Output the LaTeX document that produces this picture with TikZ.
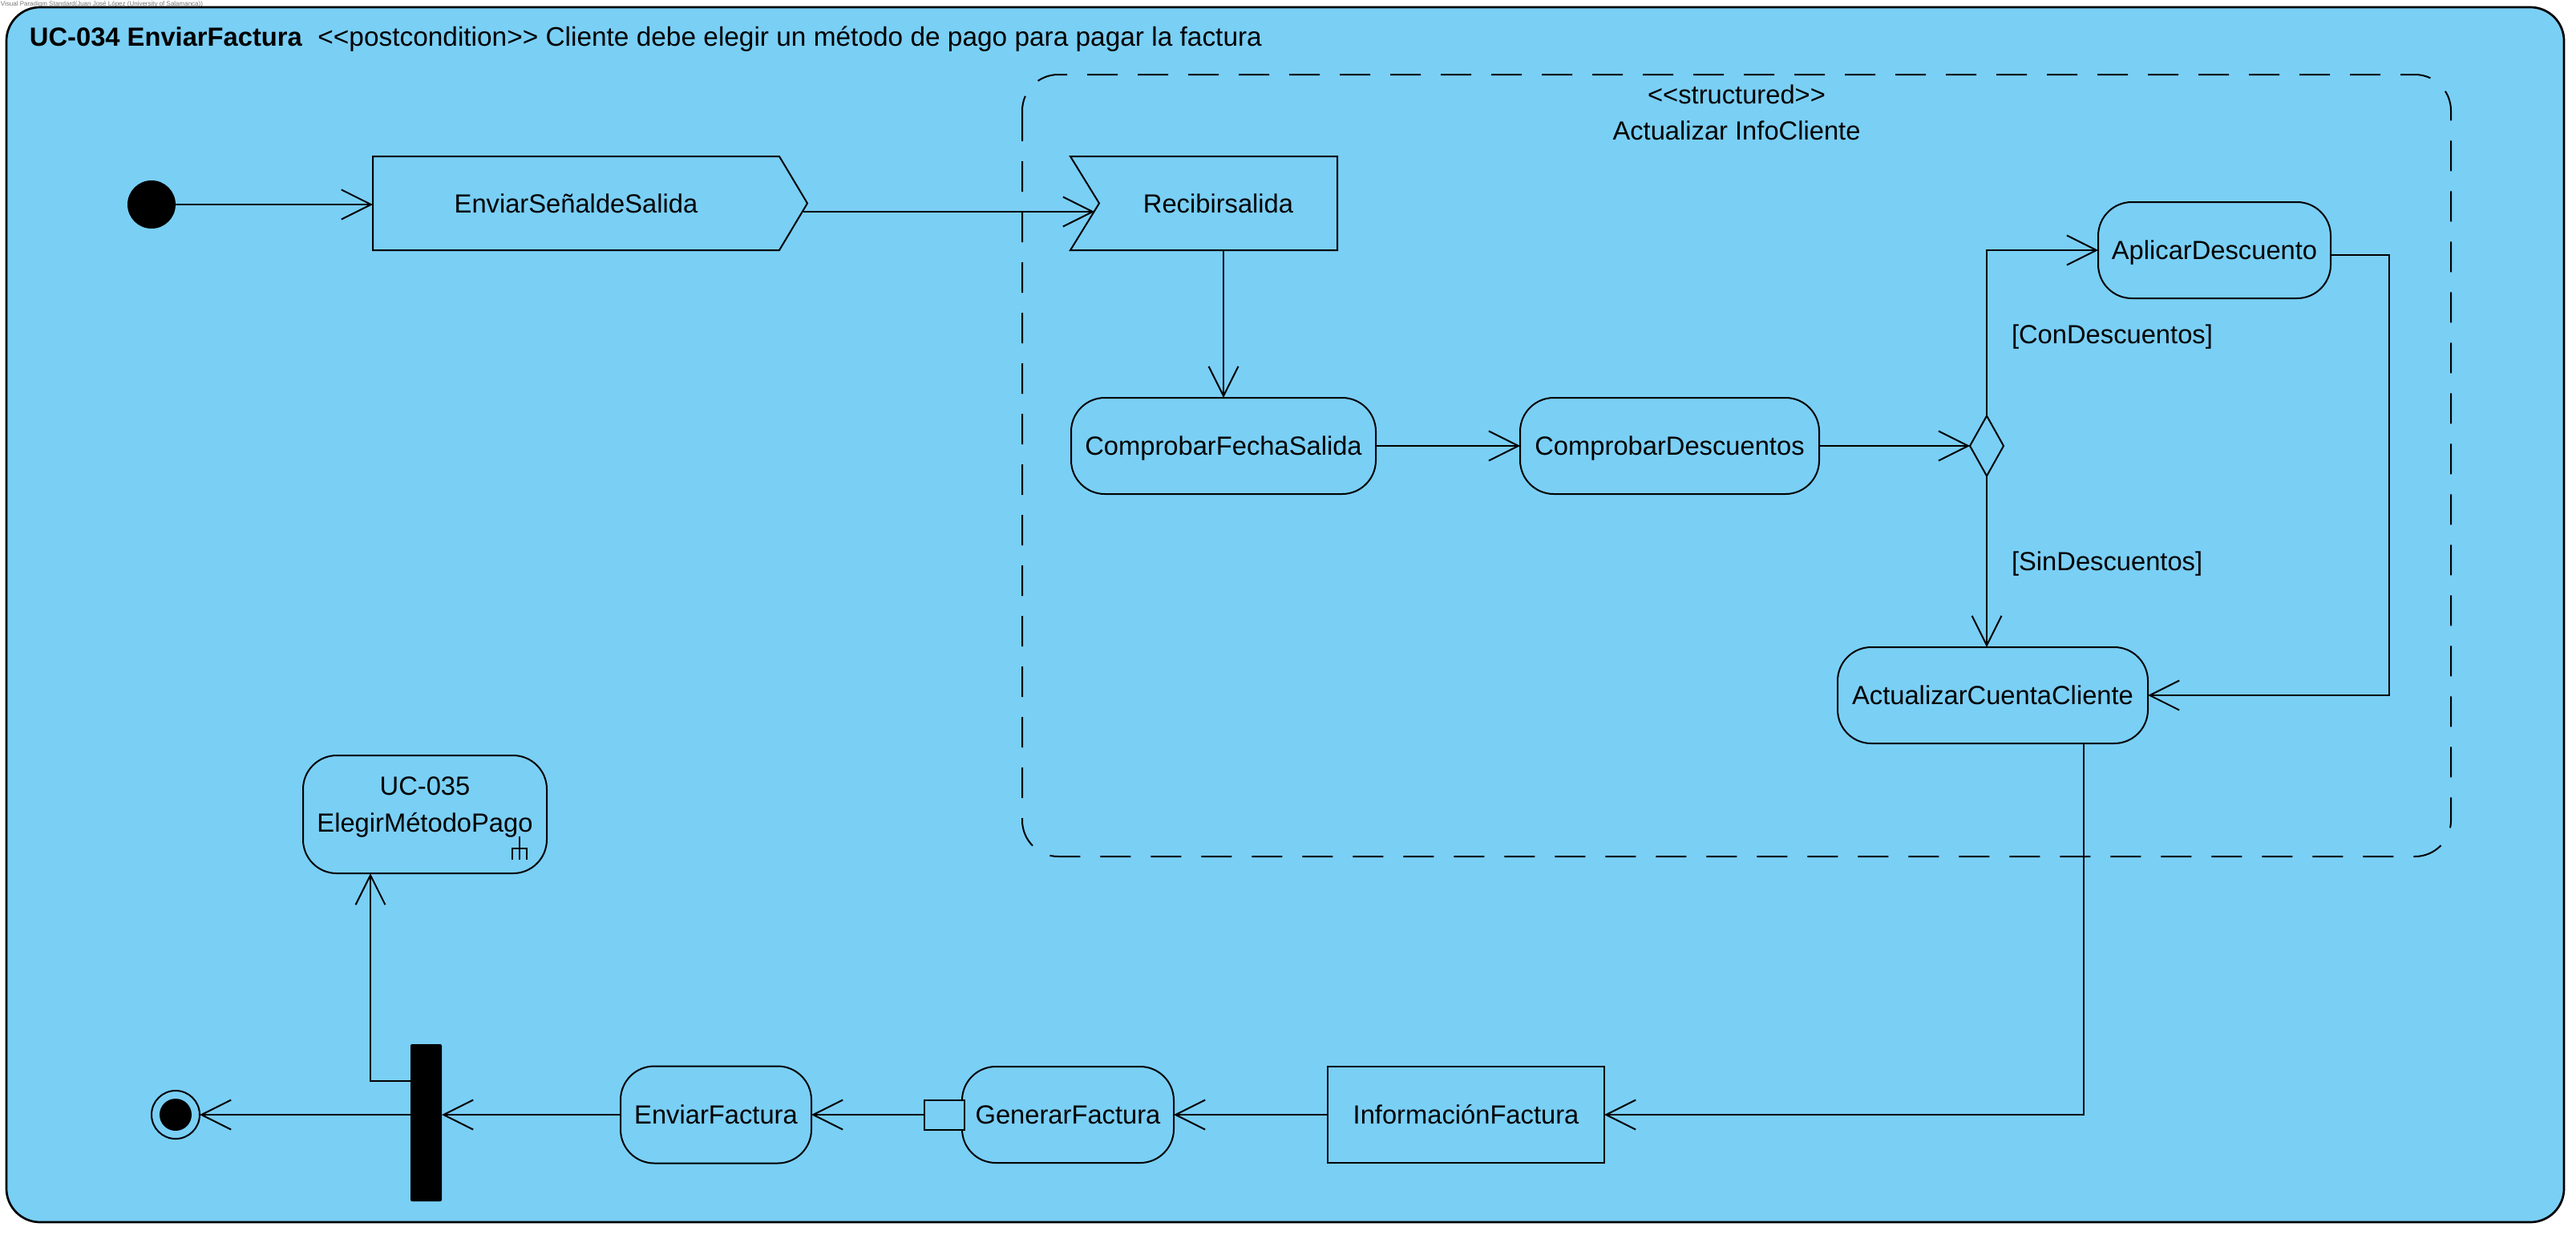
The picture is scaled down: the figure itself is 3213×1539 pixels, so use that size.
\documentclass[tikz,border=0pt]{standalone}
\usepackage{fontspec}
\usepackage{graphicx}
\setmainfont{Liberation Sans}
\usetikzlibrary{arrows.meta,calc,shapes.geometric}
\newlength\upx
\setlength\upx{0.01cm}
\definecolor{umlblue}{RGB}{122,207,245}
\definecolor{markgray}{RGB}{120,120,120}

\begin{document}
\begin{tikzpicture}[x=0.01cm, y=-0.01cm,
  every node/.style={font=\fontsize{9.3pt}{11pt}\selectfont, inner sep=0pt, outer sep=0pt},
  line/.style={line width=0.57pt},
  flow/.style={line, -{Straight Barb[length=10.5pt,width=10.5pt]}},
  plain/.style={text height=6.7pt, text depth=0pt},
  action/.style={draw, line, plain, rounded corners=42\upx, minimum height=120\upx},
  objbox/.style={draw, line, plain, minimum height=120\upx},
]
\useasboundingbox (0,0) rectangle (3213,1539);

% tool mark
\node[anchor=north west, text=markgray] (mark) at (1,2)
  {\resizebox{252\upx}{!}{Visual Paradigm Standard(Juan José López (University of Salamanca))}};

% activity frame
\draw[line width=0.77pt, fill=umlblue, rounded corners=42\upx] (8,9) rectangle (3198,1524);
\node[anchor=base west] (title) at (37,57)
  {\textbf{UC-034 EnviarFactura}\hspace{5.5pt}{\fontsize{9.5pt}{11pt}\selectfont <{}<postcondition>{}> Cliente debe elegir un método de pago para pagar la factura}};

% structured region
\draw[line, dash pattern=on 38\upx off 25\upx, rounded corners=45\upx] (1275,93) rectangle (3057,1068);
\node[anchor=base] (stereo) at (2166,129) {<{}<structured>{}>};
\node[anchor=base] (regname) at (2166,174) {Actualizar InfoCliente};

% initial node
\node[circle, fill, minimum size=60\upx] (init) at (189,255) {};

% send signal action
\node[plain, minimum width=507\upx, minimum height=117\upx] (send) at (718.5,253.5) {EnviarSeñaldeSalida};
\draw[line] (send.north west) -- (send.north east) -- ($(send.east)+(35,0)$)
  -- (send.south east) -- (send.south west) -- cycle;

% accept event action
\node[plain, minimum width=297\upx, minimum height=117\upx] (recv) at (1519.5,253.5) {Recibirsalida};
\draw[line] (recv.west) -- ($(recv.north west)+(-36,0)$) -- (recv.north east)
  -- (recv.south east) -- ($(recv.south west)+(-36,0)$) -- cycle;

% actions
\node[action, minimum width=380\upx] (cfs) at (1526,556) {ComprobarFechaSalida};
\node[action, minimum width=373\upx] (cd) at (2082.5,556) {ComprobarDescuentos};
\node[diamond, draw, line, minimum width=42\upx, minimum height=75\upx] (dec) at (2478,556) {};
\node[action, minimum width=290\upx] (ad) at (2762,312) {AplicarDescuento};
\node[action, minimum width=387\upx] (acc) at (2485.5,867) {ActualizarCuentaCliente};
\node[objbox, minimum width=345\upx] (info) at (1828.5,1390) {InformaciónFactura};
\node[action, minimum width=264\upx] (gf) at (1332,1390) {GenerarFactura};
\node[draw, line, fill=umlblue, minimum width=50\upx, minimum height=37\upx] (pin) at (1178,1390) {};
\node[action, minimum width=238\upx, minimum height=121\upx] (ef) at (893,1390) {EnviarFactura};

% fork bar and final node
\node[fill, rounded corners=2\upx, minimum width=39\upx, minimum height=196\upx] (bar) at (531.5,1400) {};
\node[circle, draw, line, minimum size=60\upx] (final) at (219,1390) {};
\node[circle, fill, minimum size=40\upx] (finaldot) at (final.center) {};

% call behavior action
\node[draw, line, rounded corners=42\upx, minimum width=304\upx, minimum height=147\upx] (emp) at (530,1015.5) {};
\node[anchor=north, align=center, font=\fontsize{9.3pt}{13.1pt}\selectfont] (emptext) at (530,968.5)
  {UC-035\\ElegirMétodoPago};
\draw[line] ($(emp.center)+(118,27.5)$) -- ($(emp.center)+(118,56.5)$);
\draw[line] ($(emp.center)+(109,56.5)$) -- ($(emp.center)+(109,42.5)$)
  -- ($(emp.center)+(127,42.5)$) -- ($(emp.center)+(127,56.5)$);

% guards
\node[plain, anchor=west] (gcon) at (2509,417) {[ConDescuentos]};
\node[plain, anchor=west] (gsin) at (2509,700) {[SinDescuentos]};

% control flows
\draw[flow] (init.east) -- (init.east -| send.west);
\draw[flow] ($(send.east)+(30,10.5)$) -- ($(recv.west)+(-6,10.5)$);
\draw[flow] (recv.south -| cfs.north) -- (cfs.north);
\draw[flow] (cfs.east) -- (cd.west);
\draw[flow] (cd.east) -- (dec.west);
\draw[flow] (dec.north) |- (ad.west);
\draw[flow] (dec.south) -- (dec.south |- acc.north);
\draw[flow] ($(ad.east)+(0,6)$) -- ++(73,0) |- (acc.east);
\draw[flow] ($(acc.south)+(113.5,0)$) |- (info.east);
\draw[flow] (info.west) -- (gf.east);
\draw[flow] (pin.west) -- (ef.east);
\draw[flow] (ef.west) -- (ef.west -| bar.east);
\draw[flow] (final.east -| bar.west) -- (final.east);
\draw[flow] ($(bar.west)+(0,-52)$) -| ($(emp.south)+(-68,0)$);
\end{tikzpicture}
\end{document}
